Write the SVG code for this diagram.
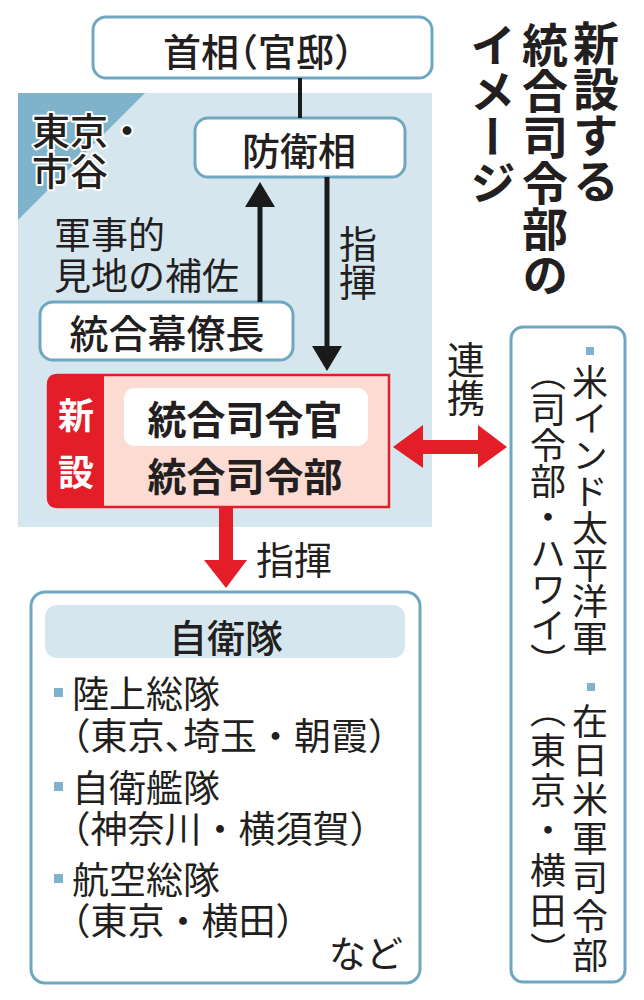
<svg xmlns="http://www.w3.org/2000/svg" width="644" height="1000" viewBox="0 0 644 1000">
<defs>
<style>
text{font-family:"Noto Sans CJK JP","Noto Sans CJK SC",sans-serif;fill:#231f20;dominant-baseline:central}
.box{fill:#fff;stroke:#6fa7c1;stroke-width:3}
.lbl{font-size:38px;font-weight:500;text-anchor:middle}
.li{font-size:37px;font-weight:400}
.h{font-feature-settings:"halt"}
.v{writing-mode:vertical-rl}
.vt{font-size:36px;font-weight:400}
.title{font-size:46px;font-weight:700}
.bul{fill:#7fb2cb}
.blk{stroke:#1a1a1a;stroke-width:5;fill:none}
.red{fill:#e31e28}
.halo{font-size:38px;font-weight:500;stroke:#fff;stroke-width:4;paint-order:stroke;stroke-linejoin:round}
</style>
<marker id="ah" viewBox="0 0 25 30" markerWidth="25" markerHeight="30" markerUnits="userSpaceOnUse" refX="0" refY="15" orient="auto">
<path d="M0,0 L25,15 L0,30 z" fill="#1a1a1a"/>
</marker>
</defs>
<rect width="644" height="1000" fill="#fff"/>

<g id="region-ichigaya">
<rect x="18" y="93" width="414" height="434" fill="#d6e6ef"/>
<polygon points="18,93 145,93 18,220" fill="#7fb2cb"/>
<text class="halo" x="32" y="128">東京・</text>
<text class="halo" x="32" y="168">市谷</text>
<text x="54" y="233" style="font-size:37px;font-weight:400">軍事的</text>
<text x="54" y="274" style="font-size:37px;font-weight:400">見地の補佐</text>
</g>

<g id="title">
<text class="v title" x="596" y="20">新設する</text>
<text class="v title" x="545" y="22">統合司令部の</text>
<text class="v title" x="493" y="22">イメージ</text>
</g>

<g id="node-shusho">
<rect class="box" x="93" y="17" width="339" height="61" rx="13"/>
<text class="lbl" x="258" y="49">首相<tspan class="h">（</tspan>官邸<tspan class="h">）</tspan></text>
</g>

<g id="node-boeisho">
<rect class="box" x="195" y="118" width="210" height="59" rx="13"/>
<text class="lbl" x="299" y="148">防衛相</text>
</g>

<g id="node-togobakuryocho">
<rect class="box" x="40" y="302" width="253" height="58" rx="13"/>
<text class="lbl" x="167" y="331" style="font-size:39px">統合幕僚長</text>
</g>

<g id="node-togoshireibu">
<path d="M58,375 H389 V507 H58 Q48,507 48,497 V385 Q48,375 58,375 Z" fill="#fcdcd2" stroke="#e31e28" stroke-width="2.5"/>
<path d="M58,375 H104 V507 H58 Q48,507 48,497 V385 Q48,375 58,375 Z" class="red"/>
<text x="76" y="413" style="font-size:36px;font-weight:700;fill:#fff;text-anchor:middle">新</text>
<text x="76" y="470" style="font-size:36px;font-weight:700;fill:#fff;text-anchor:middle">設</text>
<rect x="124" y="388" width="244" height="58" rx="10" fill="#fff"/>
<text class="lbl" x="245" y="417" style="font-size:39px;font-weight:700">統合司令官</text>
<text class="lbl" x="245" y="474" style="font-size:39px;font-weight:700">統合司令部</text>
</g>

<g id="node-jieitai">
<rect class="box" x="31" y="592" width="389" height="391" rx="14"/>
<rect x="45" y="605" width="360" height="53" rx="12" fill="#d6e6ef"/>
<text class="lbl" x="226" y="635">自衛隊</text>
<rect class="bul" x="54" y="688" width="9" height="9"/>
<text class="li" x="72" y="692">陸上総隊</text>
<text class="li" x="72" y="734"><tspan class="h">（</tspan>東京<tspan class="h">、</tspan>埼玉・朝霞<tspan class="h">）</tspan></text>
<rect class="bul" x="54" y="782" width="9" height="9"/>
<text class="li" x="72" y="786">自衛艦隊</text>
<text class="li" x="72" y="827"><tspan class="h">（</tspan>神奈川・横須賀<tspan class="h">）</tspan></text>
<rect class="bul" x="54" y="874" width="9" height="9"/>
<text class="li" x="72" y="878">航空総隊</text>
<text class="li" x="72" y="919"><tspan class="h">（</tspan>東京・横田<tspan class="h">）</tspan></text>
<text x="329" y="952" style="font-size:37px;font-weight:400">など</text>
</g>

<g id="node-beigun">
<rect class="box" x="511" y="327" width="114" height="655" rx="12"/>
<rect class="bul" x="586" y="347" width="8" height="8"/>
<text class="v vt" x="590" y="364" style="letter-spacing:0.6px">米インド太平洋軍</text>
<text class="v vt" x="548" y="355">（司令部・ハワイ）</text>
<rect class="bul" x="587" y="683" width="8" height="8"/>
<text class="v vt" x="590" y="703" style="letter-spacing:3px">在日米軍司令部</text>
<text class="v vt" x="548" y="692" style="letter-spacing:4px">（東京・横田）</text>
</g>

<g id="connectors">
<line x1="300" y1="78" x2="300" y2="118" stroke="#1a1a1a" stroke-width="4"/>
<line class="blk" x1="260" y1="302" x2="260" y2="207" marker-end="url(#ah)"/>
<line class="blk" x1="327" y1="177" x2="327" y2="346" marker-end="url(#ah)"/>
<text class="v" x="358" y="225" style="font-size:38px;font-weight:400">指揮</text>
<polygon class="red" points="393,447 423,425 423,440 478,440 478,425 507,447 478,468 478,454 423,454 423,468"/>
<text class="v" x="466" y="341" style="font-size:38px;font-weight:400">連携</text>
<polygon class="red" points="219,507 233,507 233,560 247,560 226,588 204,560 219,560"/>
<text x="256" y="557" style="font-size:38px;font-weight:400">指揮</text>
</g>
</svg>
